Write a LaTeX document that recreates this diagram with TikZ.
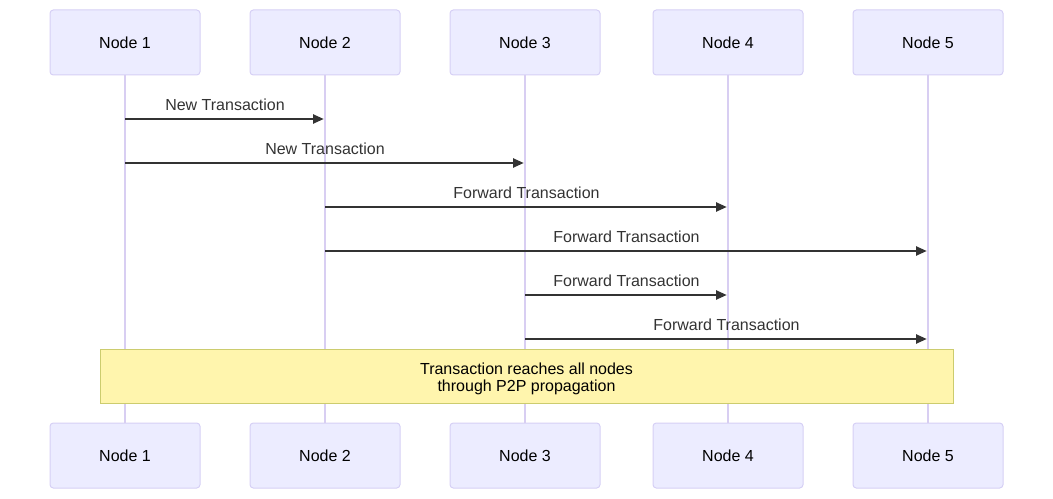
\documentclass[tikz,border=0pt]{standalone}
\usepackage{fontspec}
\setmainfont{Liberation Sans}
\definecolor{actorfill}{RGB}{236,236,255}
\definecolor{actorline}{RGB}{214,208,245}
\definecolor{lifeline}{RGB}{216,206,242}
\definecolor{msgline}{RGB}{51,51,51}
\definecolor{notefill}{RGB}{255,245,173}
\definecolor{noteline}{RGB}{204,204,110}
\usetikzlibrary{arrows.meta,positioning}

\begin{document}
\begin{tikzpicture}[x=0.75pt,y=-0.75pt,
  actor/.style={draw=actorline,fill=actorfill,rounded corners=2.5pt,line width=0.75pt,
                minimum width=112.5pt,minimum height=48.75pt,
                font=\fontsize{12}{14}\selectfont,text=black,align=center},
  life/.style={draw=lifeline,line width=1.1pt},
  msg/.style={draw=msgline,line width=1.1pt,-{Triangle[length=8pt,width=7pt]},shorten >=1pt},
  lbl/.style={font=\fontsize{12}{14}\selectfont,text=msgline,above=2.3pt,midway},
  note/.style={draw=noteline,fill=notefill,line width=0.75pt,
               minimum width=639.75pt,minimum height=40.5pt},
  notetext/.style={font=\fontsize{12}{12.75}\selectfont,text=black,align=center}
]
  \useasboundingbox (0,0) rectangle (1053,499);

  % participants, top and bottom
  \node[actor] (n1) at (125,42.5) {Node 1};
  \node[actor] (n2) at (325,42.5) {Node 2};
  \node[actor] (n3) at (525,42.5) {Node 3};
  \node[actor] (n4) at (728,42.5) {Node 4};
  \node[actor] (n5) at (928,42.5) {Node 5};
  \node[actor] (b1) at (125,455.5) {Node 1};
  \node[actor] (b2) at (325,455.5) {Node 2};
  \node[actor] (b3) at (525,455.5) {Node 3};
  \node[actor] (b4) at (728,455.5) {Node 4};
  \node[actor] (b5) at (928,455.5) {Node 5};

  % lifelines
  \foreach \i in {1,...,5}
    \draw[life] (n\i.south) -- (b\i.north);

  % message end points
  \coordinate (m1a) at (125,119); \coordinate (m1b) at (325,119);
  \coordinate (m2a) at (125,163); \coordinate (m2b) at (525,163);
  \coordinate (m3a) at (325,207); \coordinate (m3b) at (728,207);
  \coordinate (m4a) at (325,251); \coordinate (m4b) at (928,251);
  \coordinate (m5a) at (525,295); \coordinate (m5b) at (728,295);
  \coordinate (m6a) at (525,339); \coordinate (m6b) at (928,339);

  \draw[msg] (m1a) -- (m1b) node[lbl] {New Transaction};
  \draw[msg] (m2a) -- (m2b) node[lbl] {New Transaction};
  \draw[msg] (m3a) -- (m3b) node[lbl] {Forward Transaction};
  \draw[msg] (m4a) -- (m4b) node[lbl] {Forward Transaction};
  \draw[msg] (m5a) -- (m5b) node[lbl] {Forward Transaction};
  \draw[msg] (m6a) -- (m6b) node[lbl] {Forward Transaction};

  % note over all nodes
  \node[note] (reach) at (526.5,376) {};
  \node[notetext] (reachtxt) at ([yshift=-2.25pt]reach.center)
    {Transaction reaches all nodes\\through P2P propagation};
\end{tikzpicture}
\end{document}
